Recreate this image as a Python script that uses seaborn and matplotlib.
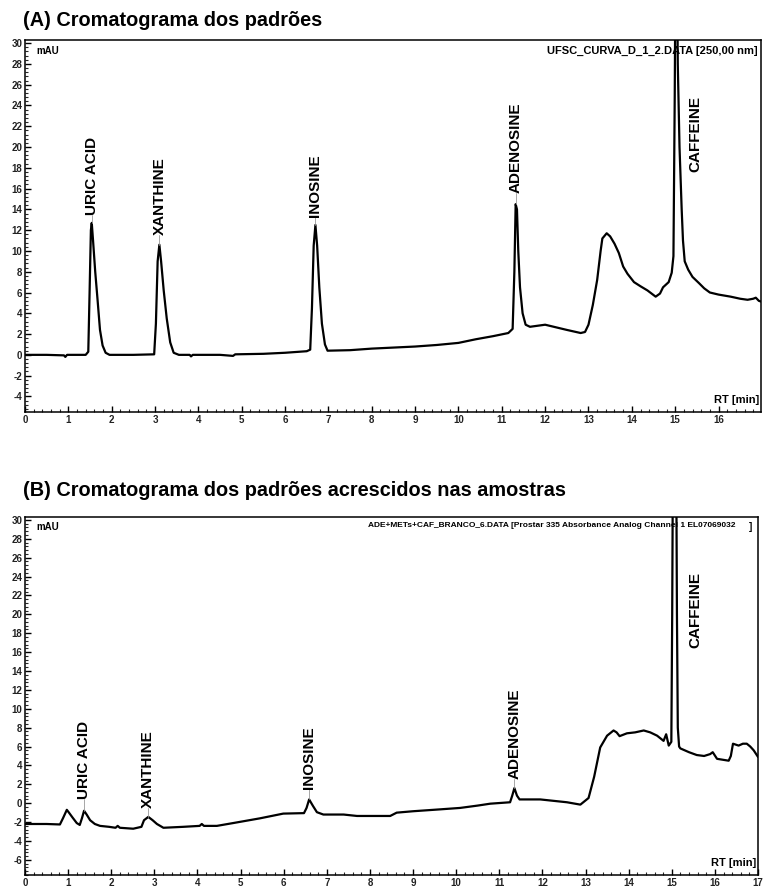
import matplotlib
matplotlib.use("Agg")
import matplotlib.pyplot as plt
import seaborn as sns
import numpy as np
from matplotlib.ticker import MultipleLocator

# chromatogram A: standards (RT in min, signal in mAU)
rt_a = [0.0, 0.5, 0.9, 0.93, 0.97, 1.40, 1.46, 1.49, 1.52, 1.54, 1.57, 1.62, 1.67, 1.73, 1.79,
        1.86, 1.95, 2.5, 2.98, 3.02, 3.06, 3.10, 3.14, 3.20, 3.27, 3.35, 3.43, 3.55, 3.8, 3.83,
        3.87, 4.5, 4.8, 4.85, 5.5, 6.0, 6.5, 6.58, 6.62, 6.66, 6.70, 6.74, 6.79, 6.85, 6.92,
        6.98, 7.5, 8.0, 8.5, 9.0, 9.5, 10.0, 10.4, 10.8, 11.15, 11.25, 11.29, 11.32, 11.35,
        11.38, 11.42, 11.48, 11.55, 11.65, 12.0, 12.2, 12.5, 12.82, 12.92, 13.0, 13.1, 13.2,
        13.28, 13.32, 13.42, 13.5, 13.6, 13.7, 13.8, 13.9, 14.05, 14.2, 14.36, 14.55, 14.65,
        14.72, 14.85, 14.92, 14.96, 14.99, 15.01, 15.04, 15.06, 15.10, 15.15, 15.18, 15.22,
        15.3, 15.4, 15.55, 15.67, 15.8, 16.0, 16.28, 16.5, 16.67, 16.8, 16.86, 16.93, 17.0]
mau_a = [0.0, 0.0, -0.05, -0.2, 0.0, 0.0, 0.3, 6.0, 12.0, 12.7, 11.0, 8.0, 5.5, 2.4, 0.9,
         0.2, 0.0, 0.0, 0.05, 3.0, 9.0, 10.6, 9.0, 6.2, 3.5, 1.2, 0.2, 0.0, 0.0, -0.15,
         0.0, 0.0, -0.1, 0.05, 0.1, 0.2, 0.35, 0.5, 4.5, 10.5, 12.5, 10.5, 6.5, 3.0, 1.0,
         0.4, 0.45, 0.6, 0.7, 0.8, 0.95, 1.15, 1.5, 1.8, 2.1, 2.5, 8.0, 14.5, 14.0,
         10.0, 6.5, 4.0, 2.9, 2.7, 2.9, 2.7, 2.4, 2.1, 2.2, 2.9, 4.8, 7.2,
         10.0, 11.2, 11.7, 11.4, 10.7, 9.8, 8.5, 7.8, 7.0, 6.6, 6.2, 5.6, 5.9,
         6.5, 7.0, 7.9, 9.5, 25.0, 40.0, 40.0, 28.0, 20.0, 14.0, 11.0, 9.0,
         8.2, 7.5, 6.9, 6.4, 6.0, 5.8, 5.6, 5.4, 5.3, 5.4, 5.5, 5.2, 5.1]

# chromatogram B: standards spiked into the samples
rt_b = [0.0, 0.5, 0.81, 0.88, 0.97, 1.02, 1.10, 1.20, 1.27, 1.32, 1.37, 1.43, 1.51, 1.62,
        1.74, 1.95, 2.10, 2.15, 2.2, 2.51, 2.70, 2.76, 2.86, 2.96, 3.06, 3.21, 3.67, 4.05,
        4.1, 4.15, 4.45, 4.83, 5.45, 5.99, 6.47, 6.53, 6.59, 6.68, 6.77, 6.92, 7.39, 7.7,
        8.47, 8.62, 9.0, 9.63, 10.09, 10.5, 10.79, 11.25, 11.3, 11.35, 11.41, 11.47, 11.95,
        12.57, 12.88, 13.07, 13.2, 13.34, 13.5, 13.65, 13.72, 13.79, 13.96, 14.15, 14.35,
        14.5, 14.66, 14.81, 14.87, 14.93, 14.99, 15.01, 15.03, 15.10, 15.12, 15.14, 15.17,
        15.2, 15.4, 15.58, 15.75, 15.89, 15.95, 16.05, 16.32, 16.37, 16.42, 16.55, 16.65,
        16.74, 16.82, 16.9, 17.0]
mau_b = [-2.2, -2.2, -2.25, -1.6, -0.7, -1.0, -1.5, -2.1, -2.3, -1.6, -0.8, -1.2, -1.8, -2.2,
         -2.4, -2.5, -2.6, -2.4, -2.6, -2.7, -2.5, -1.8, -1.45, -1.8, -2.2, -2.6, -2.5, -2.4,
         -2.2, -2.4, -2.4, -2.1, -1.6, -1.1, -1.05, -0.5, 0.4, -0.3, -0.95, -1.2, -1.2, -1.35,
         -1.35, -1.0, -0.85, -0.65, -0.5, -0.25, -0.05, 0.1, 0.8, 1.6, 0.8, 0.4, 0.4,
         0.1, -0.15, 0.55, 2.8, 5.9, 7.15, 7.7, 7.5, 7.1, 7.4, 7.5, 7.7,
         7.5, 7.15, 6.6, 7.3, 6.1, 6.5, 20.0, 40.0, 40.0, 20.0, 8.0, 6.0,
         5.8, 5.4, 5.1, 5.0, 5.2, 5.4, 4.7, 4.5, 5.0, 6.3, 6.1, 6.3,
         6.3, 6.0, 5.6, 4.9]

compounds = ["URIC ACID", "XANTHINE", "INOSINE", "ADENOSINE", "CAFFEINE"]
# (peak rt, peak top, label rt, label bottom)
peaks_a = [(1.54, 12.7, 1.54, 13.5), (3.10, 10.6, 3.10, 11.5), (6.70, 12.5, 6.70, 13.3),
           (11.32, 14.5, 11.32, 15.6), (None, None, 15.47, 17.6)]
peaks_b = [(1.37, -0.8, 1.37, 0.4), (2.86, -1.45, 2.86, -0.5), (6.59, 0.4, 6.59, 1.46),
           (11.35, 1.6, 11.35, 2.6), (None, None, 15.55, 16.4)]

titles = ["(A) Cromatograma dos padrões",
          "(B) Cromatograma dos padrões acrescidos nas amostras"]
file_a = "UFSC_CURVA_D_1_2.DATA [250,00 nm]"
file_b = "ADE+METs+CAF_BRANCO_6.DATA [Prostar 335 Absorbance Analog Channel 1 EL07069032"

sns.set_style("white")
plt.rcParams['font.family'] = ['Liberation Sans', 'DejaVu Sans']
plt.rcParams['axes.unicode_minus'] = False

fig = plt.figure(figsize=(7.64, 8.90), dpi=100)
ax_a = fig.add_axes([25 / 764, 1 - 412 / 890, 736 / 764, 372 / 890])
ax_b = fig.add_axes([25 / 764, 1 - 875 / 890, 733 / 764, 358 / 890])


def draw_panel(ax, rt, mau, peaks, ylim, xmax):
    sns.lineplot(x=rt, y=mau, ax=ax, color="black", lw=1.6, sort=False, estimator=None)
    ax.set_xlim(0, xmax)
    ax.set_ylim(*ylim)
    ax.xaxis.set_major_locator(MultipleLocator(1))
    ax.xaxis.set_minor_locator(MultipleLocator(0.2))
    ax.yaxis.set_major_locator(MultipleLocator(2))
    ax.yaxis.set_minor_locator(MultipleLocator(0.4))
    ax.tick_params(which="major", direction="in", length=4, width=1, labelsize=7,
                   pad=2, left=True, bottom=True, colors="black")
    ax.tick_params(which="minor", direction="in", length=2, width=0.8, left=True, bottom=True)
    for lab in ax.get_xticklabels() + ax.get_yticklabels():
        lab.set_fontweight("bold")
        lab.set_color("#222222")
    for sp in ax.spines.values():
        sp.set_color("black")
        sp.set_linewidth(1.1)
    ax.set_xlabel("")
    ax.set_ylabel("")
    for name, (prt, ptop, lrt, lbot) in zip(compounds, peaks):
        if prt is not None:
            ax.plot([prt, lrt], [ptop, lbot], color="#999999", lw=0.6)
        ax.text(lrt, lbot, name, rotation=90, ha="center", va="bottom",
                fontsize=11, fontweight="bold", color="black")
    ax.text(0.015, 0.985, "mAU", transform=ax.transAxes, ha="left", va="top",
            fontsize=7, fontweight="bold", color="black")
    ax.text(0.998, 0.02, "RT [min]", transform=ax.transAxes, ha="right", va="bottom",
            fontsize=8, fontweight="bold", color="black")


draw_panel(ax_a, rt_a, mau_a, peaks_a, (-5.5, 30.3), 16.98)
draw_panel(ax_b, rt_b, mau_b, peaks_b, (-7.6, 30.3), 17.0)

ax_a.text(0.995, 0.985, file_a, transform=ax_a.transAxes, ha="right", va="top",
          fontsize=8, fontweight="bold", color="black")
ax_b.text(0.468, 0.985, file_b, transform=ax_b.transAxes, ha="left", va="top",
          fontsize=6, fontweight="bold", color="black")
ax_b.text(0.992, 0.985, "]", transform=ax_b.transAxes, ha="right", va="top",
          fontsize=7, fontweight="bold", color="black")

fig.text(23 / 764, 1 - 20 / 890, titles[0], ha="left", va="center",
         fontsize=14.3, fontweight="bold", color="black")
fig.text(23 / 764, 1 - 490 / 890, titles[1], ha="left", va="center",
         fontsize=14.3, fontweight="bold", color="black")

fig.savefig("out.png", dpi=100)
